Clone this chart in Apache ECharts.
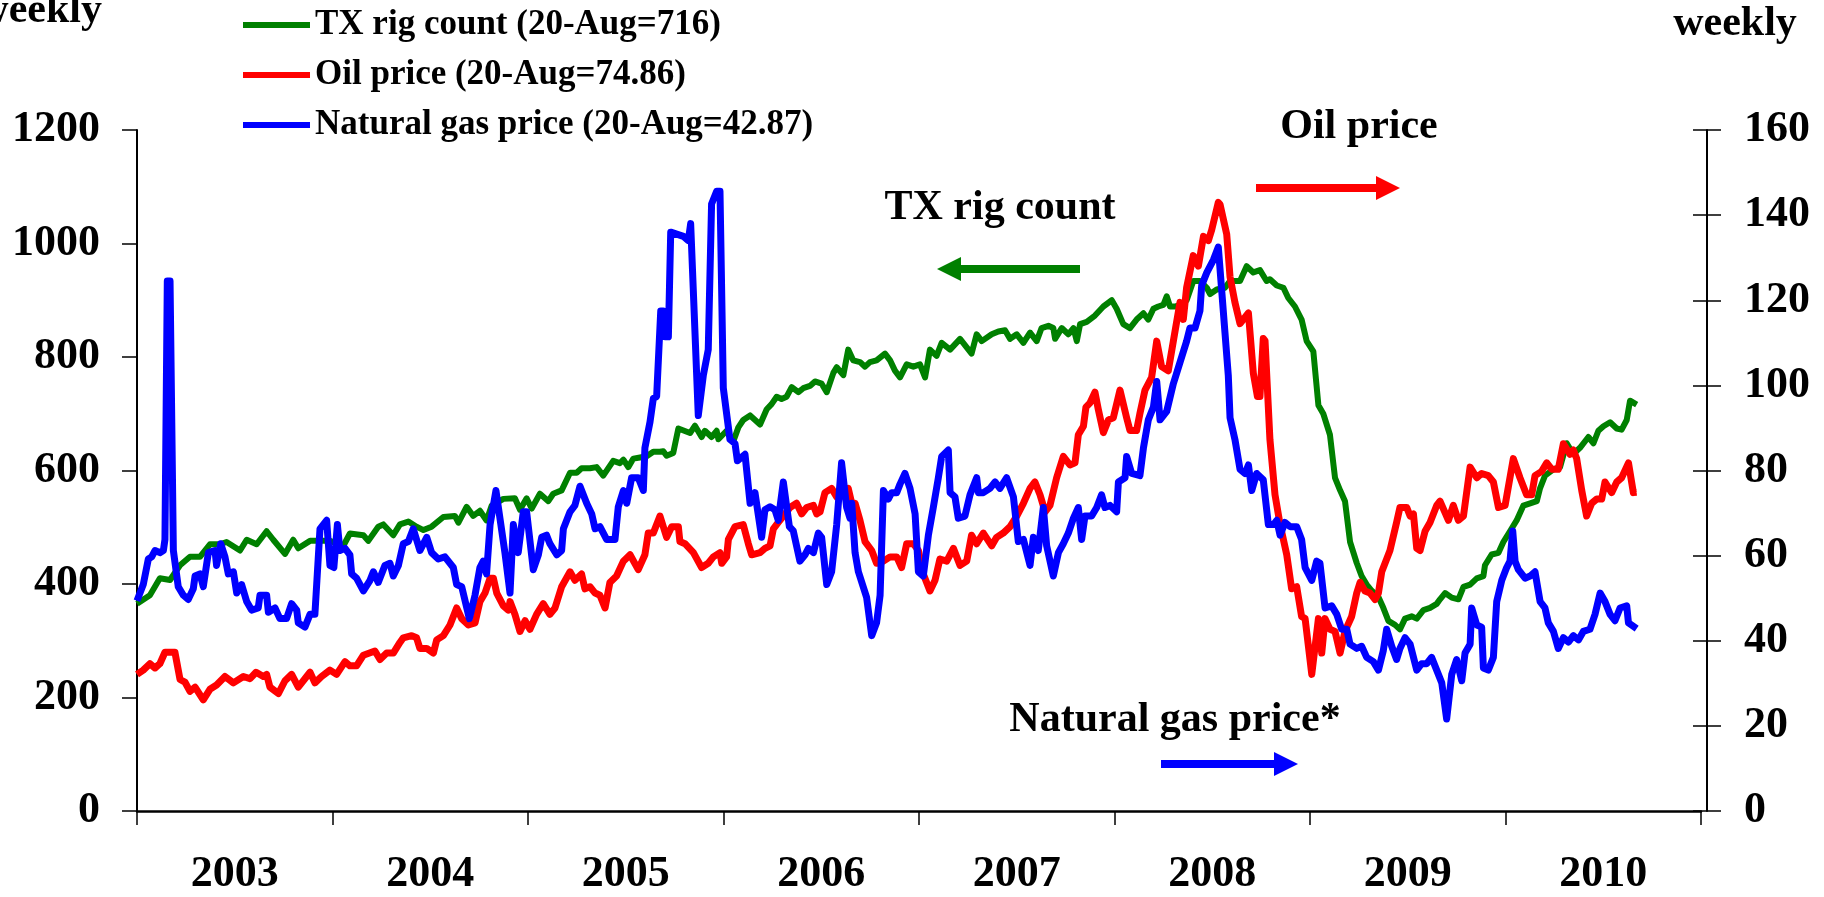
<!DOCTYPE html>
<html>
<head>
<meta charset="utf-8">
<script src="https://cdn.jsdelivr.net/npm/echarts@6/dist/echarts.min.js"></script>
<style>
html,body{margin:0;padding:0;background:#fff;}
#chart{width:1824px;height:897px;}
</style>
</head>
<body>
<div id="chart"></div>
<script>
// ---- tick labels ----
const yearLabels = ['2003','2004','2005','2006','2007','2008','2009','2010'];
const legendNames = ['TX rig count (20-Aug=716)','Oil price (20-Aug=74.86)','Natural gas price (20-Aug=42.87)'];

// ---- data: [decimal year, value] ----
const rigCount = [
[2003.000,365],[2003.066,380],[2003.117,410],[2003.169,407],[2003.220,433],[2003.271,448],[2003.322,448],[2003.373,470],[2003.424,470],[2003.458,474],[2003.527,459],[2003.561,478],[2003.612,470],[2003.663,493],[2003.697,478],[2003.757,453],[2003.799,478],[2003.825,463],[2003.885,476],[2003.987,476],[2004.055,467],[2004.089,489],[2004.158,486],[2004.183,476],[2004.234,501],[2004.260,505],[2004.311,486],[2004.345,505],
[2004.388,510],[2004.430,501],[2004.465,495],[2004.507,501],[2004.567,518],[2004.626,520],[2004.644,508],[2004.686,536],[2004.720,520],[2004.754,529],[2004.788,512],[2004.814,538],[2004.874,550],[2004.933,551],[2004.959,531],[2004.993,551],[2005.019,533],[2005.061,559],[2005.104,546],[2005.129,559],[2005.172,565],[2005.215,596],[2005.249,596],[2005.274,604],[2005.317,604],[2005.351,606],[2005.385,591],[2005.436,617],[2005.470,613],[2005.488,619],[2005.513,606],[2005.539,621],[2005.573,623],[2005.607,625],[2005.641,633],[2005.675,633],
[2005.692,634],[2005.709,626],[2005.743,631],[2005.769,674],[2005.829,666],[2005.854,679],[2005.888,659],[2005.905,670],[2005.939,659],[2005.965,670],[2005.974,655],[2006.016,670],[2006.050,651],[2006.076,676],[2006.101,689],[2006.136,697],[2006.187,681],[2006.221,708],[2006.246,717],[2006.272,730],[2006.297,726],[2006.323,730],[2006.349,747],[2006.383,738],[2006.408,745],[2006.442,749],[2006.468,757],[2006.502,753],[2006.528,738],[2006.562,772],[2006.579,782],[2006.613,768],[2006.638,813],[2006.664,794],[2006.698,791],[2006.724,783],[2006.749,791],[2006.783,794],[2006.826,806],[2006.852,794],[2006.877,776],[2006.903,764],[2006.937,787],[2006.971,783],[2007.005,787],
[2007.031,764],[2007.056,813],[2007.090,802],[2007.116,825],[2007.159,813],[2007.210,832],[2007.269,806],[2007.295,840],[2007.321,828],[2007.372,840],[2007.406,845],[2007.440,847],[2007.466,832],[2007.500,840],[2007.534,825],[2007.568,843],[2007.602,828],[2007.627,851],[2007.662,855],[2007.687,851],[2007.696,832],[2007.730,851],[2007.764,840],[2007.790,851],[2007.807,828],[2007.824,858],[2007.858,862],[2007.900,873],[2007.943,889],[2007.986,900],[2008.011,885],[2008.045,858],[2008.079,851],[2008.113,866],[2008.148,877],[2008.173,866],[2008.199,885],[2008.224,889],[2008.250,892],[2008.267,907],[2008.284,889],[2008.310,889],[2008.335,892],
[2008.369,900],[2008.403,934],[2008.437,934],[2008.472,922],[2008.489,911],[2008.523,919],[2008.565,922],[2008.591,934],[2008.642,934],[2008.676,960],[2008.710,949],[2008.744,953],[2008.778,934],[2008.795,937],[2008.830,926],[2008.864,922],[2008.889,904],[2008.923,889],[2008.957,866],[2008.983,828],[2009.017,810],[2009.043,715],[2009.068,700],[2009.102,663],[2009.128,587],[2009.154,565],[2009.179,546],[2009.205,474],[2009.239,437],[2009.264,414],[2009.290,399],[2009.316,388],[2009.350,377],[2009.375,358],[2009.401,335],[2009.435,328],[2009.460,320],[2009.486,339],[2009.520,343],[2009.546,339],[2009.580,354],[2009.614,358],[2009.648,365],[2009.665,373],
[2009.691,384],[2009.725,376],[2009.759,373],[2009.785,395],[2009.819,399],[2009.853,410],[2009.887,414],[2009.895,433],[2009.929,452],[2009.964,455],[2009.989,474],[2010.023,493],[2010.057,512],[2010.091,538],[2010.126,542],[2010.160,546],[2010.177,569],[2010.202,591],[2010.245,602],[2010.279,606],[2010.313,648],[2010.347,629],[2010.381,640],[2010.424,659],[2010.450,648],[2010.475,670],[2010.501,678],[2010.535,685],[2010.569,674],[2010.594,672],[2010.620,689],[2010.637,723],[2010.671,716]
];

const oilPrice = [
[2003.000,32.1],[2003.032,33.1],[2003.066,34.6],[2003.092,33.6],[2003.117,34.6],[2003.143,37.3],[2003.194,37.3],[2003.220,30.9],[2003.245,30.3],[2003.271,28.1],[2003.297,29.1],[2003.339,26.1],[2003.373,28.6],[2003.407,29.6],[2003.450,31.6],[2003.493,30.1],[2003.544,31.6],[2003.578,31.1],[2003.609,32.6],[2003.646,31.6],[2003.663,32.1],[2003.680,29.1],[2003.723,27.6],[2003.757,30.6],[2003.791,32.1],[2003.825,29.1],[2003.885,32.6],[2003.910,30.1],[2003.944,31.6],[2003.987,33.1],[2004.021,32.1],[2004.064,35.1],[2004.089,34.1],[2004.123,34.1],[2004.158,36.6],[2004.217,37.6],[2004.243,35.6],[2004.277,37.1],[2004.311,37.1],[2004.345,39.6],
[2004.362,40.7],[2004.405,41.2],[2004.430,40.7],[2004.447,38.2],[2004.482,38.2],[2004.516,37.1],[2004.533,40.2],[2004.567,41.2],[2004.601,43.7],[2004.635,47.7],[2004.661,45.2],[2004.695,43.7],[2004.729,44.2],[2004.754,49.2],[2004.780,51.2],[2004.806,54.7],[2004.823,54.7],[2004.840,51.2],[2004.874,48.2],[2004.899,47.2],[2004.908,49.2],[2004.933,46.2],[2004.959,42.2],[2004.985,44.7],[2005.010,42.7],[2005.044,46.2],[2005.078,48.7],[2005.112,46.2],[2005.138,47.7],[2005.172,52.7],[2005.215,56.2],[2005.240,54.2],[2005.274,55.7],[2005.291,52.2],[2005.317,52.7],[2005.343,51.2],[2005.368,50.7],[2005.394,47.7],[2005.419,53.7],[2005.453,55.2],[2005.488,58.7],[2005.522,60.2],[2005.564,56.7],[2005.598,60.2],[2005.615,65.3],[2005.641,65.3],[2005.675,69.3],
[2005.709,64.3],[2005.735,66.8],[2005.769,66.8],[2005.777,63.3],[2005.803,62.8],[2005.846,60.7],[2005.888,57.2],[2005.922,58.2],[2005.948,59.7],[2005.982,60.7],[2005.991,58.2],[2006.016,59.7],[2006.025,63.8],[2006.059,66.8],[2006.101,67.3],[2006.127,62.8],[2006.144,60.2],[2006.187,60.7],[2006.212,61.7],[2006.238,62.3],[2006.255,66.3],[2006.280,67.8],[2006.306,69.3],[2006.340,71.3],[2006.374,72.3],[2006.400,69.8],[2006.425,71.3],[2006.460,71.8],[2006.477,69.8],[2006.494,70.3],[2006.519,74.8],[2006.553,75.8],[2006.579,73.8],[2006.604,75.3],[2006.638,75.8],[2006.656,72.3],[2006.673,72.3],[2006.698,68.3],[2006.724,63.3],[2006.758,61.2],[2006.783,58.2],[2006.818,58.7],[2006.852,59.7],[2006.886,59.7],[2006.911,57.2],[2006.937,62.8],[2006.971,62.8],[2006.997,61.2],
[2007.022,55.7],[2007.056,51.7],[2007.082,54.2],[2007.107,59.2],[2007.142,58.7],[2007.176,61.7],[2007.210,57.7],[2007.244,58.7],[2007.269,64.8],[2007.295,62.8],[2007.329,65.3],[2007.372,62.3],[2007.397,64.3],[2007.431,65.3],[2007.466,66.8],[2007.500,69.3],[2007.534,72.3],[2007.568,75.8],[2007.593,77.3],[2007.619,74.3],[2007.645,70.3],[2007.670,71.8],[2007.704,78.3],[2007.738,83.3],[2007.772,81.3],[2007.798,81.8],[2007.815,88.4],[2007.841,90.4],[2007.854,94.9],[2007.875,95.9],[2007.900,98.4],[2007.917,94.4],[2007.943,88.9],[2007.969,91.9],[2007.994,92.4],[2008.028,98.9],[2008.062,92.4],[2008.079,89.4],[2008.113,89.4],[2008.130,93.4],[2008.156,98.9],[2008.190,101.9],[2008.216,110.4],[2008.241,104.4],[2008.275,103.4],[2008.301,110.4],[2008.335,119.5],
[2008.352,115.5],[2008.369,123.0],[2008.403,130.5],[2008.429,128.0],[2008.455,135.0],[2008.480,134.0],[2008.497,136.5],[2008.531,143.0],[2008.540,142.5],[2008.574,135.5],[2008.591,125.5],[2008.616,119.5],[2008.642,114.5],[2008.685,117.0],[2008.710,102.9],[2008.731,97.4],[2008.744,97.4],[2008.761,111.0],[2008.770,110.5],[2008.795,87.3],[2008.821,74.3],[2008.847,67.3],[2008.881,60.2],[2008.906,52.2],[2008.932,52.7],[2008.957,45.7],[2008.975,45.2],[2009.009,32.1],[2009.043,45.2],[2009.060,37.1],[2009.077,45.2],[2009.102,42.7],[2009.128,42.2],[2009.154,37.1],[2009.179,42.2],[2009.213,45.7],[2009.239,51.2],[2009.256,53.7],[2009.281,51.7],[2009.307,51.2],[2009.333,49.7],[2009.350,51.2],[2009.367,56.2],[2009.409,61.2],[2009.443,67.8],[2009.460,71.3],[2009.495,71.3],[2009.512,69.3],[2009.529,69.8],[2009.546,61.7],[2009.563,61.2],[2009.589,65.8],[2009.614,67.8],[2009.648,71.8],[2009.665,72.8],
[2009.708,68.3],[2009.733,71.8],[2009.759,68.3],[2009.785,69.3],[2009.819,80.8],[2009.853,78.3],[2009.878,79.3],[2009.912,78.8],[2009.938,77.3],[2009.964,71.3],[2009.998,71.8],[2010.040,82.8],[2010.074,78.3],[2010.108,74.3],[2010.134,74.3],[2010.151,78.8],[2010.185,79.8],[2010.211,81.8],[2010.236,80.3],[2010.270,80.3],[2010.296,86.3],[2010.330,83.8],[2010.347,84.8],[2010.364,82.8],[2010.390,75.3],[2010.415,69.3],[2010.441,72.3],[2010.467,73.3],[2010.492,73.3],[2010.509,77.3],[2010.543,74.8],[2010.569,77.3],[2010.594,78.3],[2010.629,81.8],[2010.654,74.8],[2010.671,74.86]
];

const gasPrice = [
[2003.000,49.4],[2003.032,53.2],[2003.058,59.2],[2003.075,59.7],[2003.092,61.2],[2003.117,60.7],[2003.135,61.2],[2003.143,63.8],[2003.155,124.5],[2003.169,124.5],[2003.186,61.2],[2003.211,52.7],[2003.237,50.7],[2003.262,49.7],[2003.288,52.2],[2003.297,55.2],[2003.322,55.7],[2003.339,52.7],[2003.365,60.7],[2003.399,61.2],[2003.407,57.7],[2003.428,62.8],[2003.450,59.7],[2003.467,55.7],[2003.493,56.2],[2003.510,51.2],[2003.535,53.2],[2003.561,49.2],[2003.586,47.2],[2003.620,47.7],[2003.629,50.7],[2003.663,50.7],[2003.672,46.7],[2003.706,47.7],[2003.731,45.2],[2003.765,45.2],[2003.791,48.7],[2003.817,47.2],[2003.825,44.2],[2003.859,43.2],[2003.885,46.2],[2003.910,46.2],[2003.936,66.3],[2003.970,68.3],[2003.987,57.7],[2004.007,57.2],[2004.025,67.3],[2004.038,61.2],[2004.064,61.7],[2004.089,60.2],[2004.098,55.7],[2004.123,54.7],[2004.158,51.7],[2004.192,54.2],[2004.209,56.2],[2004.234,53.7],[2004.268,57.7],[2004.294,58.2],[2004.311,55.2],[2004.337,57.7],
[2004.362,62.8],[2004.388,63.3],[2004.413,66.3],[2004.447,61.2],[2004.482,64.3],[2004.507,60.7],[2004.541,59.2],[2004.575,59.7],[2004.618,57.2],[2004.635,53.2],[2004.661,52.7],[2004.700,45.2],[2004.729,50.7],[2004.754,57.2],[2004.771,58.7],[2004.788,55.7],[2004.806,67.3],[2004.836,75.3],[2004.882,60.7],[2004.908,51.2],[2004.925,67.3],[2004.950,60.7],[2004.976,70.3],[2004.993,70.3],[2005.027,56.7],[2005.053,60.2],[2005.070,64.3],[2005.095,64.8],[2005.112,62.8],[2005.147,60.2],[2005.172,61.2],[2005.181,66.3],[2005.215,70.3],[2005.240,71.8],[2005.266,76.3],[2005.300,72.3],[2005.326,69.8],[2005.343,66.3],[2005.368,66.8],[2005.402,63.8],[2005.445,63.8],[2005.462,71.5],[2005.488,75.3],[2005.505,72.3],[2005.530,78.3],[2005.564,78.3],[2005.590,75.3],[2005.598,85.3],[2005.624,91.4],[2005.641,96.9],[2005.658,97.4],
[2005.679,117.5],[2005.692,117.5],[2005.701,111.4],[2005.718,111.4],[2005.730,136.0],[2005.795,135.0],[2005.820,134.0],[2005.832,138.0],[2005.842,138.0],[2005.871,92.9],[2005.897,102.4],[2005.922,108.4],[2005.939,142.6],[2005.965,145.6],[2005.982,145.6],[2005.999,99.4],[2006.033,87.3],[2006.059,86.3],[2006.071,82.3],[2006.110,83.8],[2006.136,72.3],[2006.161,74.8],[2006.195,64.3],[2006.212,70.8],[2006.238,71.5],[2006.263,70.8],[2006.280,68.3],[2006.306,77.3],[2006.337,66.8],[2006.357,65.8],[2006.391,58.7],[2006.417,60.2],[2006.434,61.7],[2006.460,60.7],[2006.485,65.3],[2006.502,64.3],[2006.528,53.2],[2006.553,56.2],[2006.579,67.3],[2006.604,81.8],[2006.630,71.3],[2006.647,68.8],[2006.656,72.3],[2006.673,60.7],[2006.690,56.2],[2006.732,50.2],[2006.758,41.2],[2006.783,44.2],[2006.801,50.7],[2006.818,75.3],[2006.843,73.3],[2006.860,74.8],[2006.886,74.8],[2006.903,76.8],[2006.928,79.3],[2006.954,75.8],[2006.980,69.8],[2006.997,56.2],
[2007.022,55.2],[2007.048,64.8],[2007.073,71.3],[2007.099,78.3],[2007.116,83.3],[2007.150,84.8],[2007.159,74.8],[2007.184,73.8],[2007.201,68.8],[2007.235,69.3],[2007.261,74.3],[2007.295,78.3],[2007.304,74.8],[2007.329,74.8],[2007.363,75.8],[2007.389,77.3],[2007.414,75.8],[2007.448,78.3],[2007.483,73.8],[2007.508,63.3],[2007.534,63.8],[2007.568,57.7],[2007.585,64.3],[2007.610,61.2],[2007.636,71.3],[2007.653,62.3],[2007.687,55.2],[2007.713,60.7],[2007.738,62.8],[2007.764,65.3],[2007.790,68.8],[2007.815,71.3],[2007.832,63.8],[2007.849,69.3],[2007.883,69.3],[2007.909,71.3],[2007.934,74.3],[2007.951,71.3],[2007.977,71.8],[2008.011,70.3],[2008.020,77.3],[2008.054,78.3],[2008.062,83.3],[2008.088,79.3],[2008.130,78.8],[2008.148,85.3],[2008.173,91.9],[2008.199,94.9],[2008.216,100.9],[2008.233,91.9],[2008.267,93.9],[2008.301,100.4],[2008.335,105.4],
[2008.369,110.4],[2008.386,113.5],[2008.412,113.5],[2008.437,117.5],[2008.446,123.5],[2008.472,126.5],[2008.506,129.5],[2008.531,132.5],[2008.548,122.5],[2008.565,112.4],[2008.582,102.4],[2008.591,92.4],[2008.616,87.3],[2008.642,80.3],[2008.668,79.3],[2008.685,81.3],[2008.702,75.3],[2008.727,79.3],[2008.761,77.8],[2008.787,67.3],[2008.813,67.3],[2008.830,68.3],[2008.847,64.8],[2008.872,67.8],[2008.898,66.8],[2008.932,66.8],[2008.957,63.8],[2008.975,57.2],[2009.009,54.2],[2009.034,58.7],[2009.051,58.2],[2009.077,47.7],[2009.111,48.2],[2009.137,46.2],[2009.162,42.7],[2009.188,42.7],[2009.205,39.2],[2009.239,38.2],[2009.264,38.7],[2009.290,36.1],[2009.324,35.1],[2009.350,33.1],[2009.375,37.7],[2009.392,42.7],[2009.418,38.7],[2009.443,35.6],[2009.460,38.2],[2009.486,40.7],[2009.512,39.2],[2009.546,33.1],[2009.571,34.6],[2009.597,34.6],[2009.622,36.1],[2009.648,33.1],
[2009.674,30.1],[2009.699,21.6],[2009.725,32.1],[2009.750,35.6],[2009.776,30.6],[2009.793,37.1],[2009.819,39.2],[2009.827,47.7],[2009.853,43.7],[2009.878,43.2],[2009.887,33.6],[2009.912,33.1],[2009.938,36.1],[2009.955,49.2],[2009.981,54.2],[2010.006,57.2],[2010.023,58.7],[2010.037,65.8],[2010.049,58.7],[2010.066,56.7],[2010.100,54.7],[2010.126,55.2],[2010.151,56.2],[2010.177,49.2],[2010.202,47.7],[2010.219,44.2],[2010.245,42.2],[2010.270,38.2],[2010.296,40.7],[2010.322,39.7],[2010.347,41.2],[2010.373,40.2],[2010.398,42.2],[2010.432,42.7],[2010.458,46.2],[2010.484,51.2],[2010.509,49.2],[2010.535,46.2],[2010.560,44.7],[2010.586,47.7],[2010.620,48.2],[2010.629,44.2],[2010.671,42.87]
];

const FONT = '"Liberation Serif", "Times New Roman", serif';
const GREEN = '#008000', RED = '#ff0000', BLUE = '#0000ff';

const chart = echarts.init(document.getElementById('chart'), null, {renderer: 'canvas'});

const tickLabel = {fontFamily: FONT, fontWeight: 'bold', fontSize: 44, color: '#000'};
const plainNum = function (v) { return String(v); };

const option = {
  animation: false,
  backgroundColor: '#fff',
  grid: {left: 137, right: 123, top: 130, bottom: 86, containLabel: false, outerBoundsMode: 'none'},
  legend: {
    orient: 'vertical', left: 238, top: 2,
    itemWidth: 67, itemHeight: 6, itemGap: 14, icon: 'rect',
    selectedMode: false,
    textStyle: {fontFamily: FONT, fontWeight: 'bold', fontSize: 35, color: '#000', lineHeight: 36},
    data: legendNames
  },
  xAxis: [
    {type: 'value', min: 2003, max: 2011, show: false},
    {type: 'category', data: yearLabels, position: 'bottom', boundaryGap: true,
     axisLine: {show: true, lineStyle: {color: '#000', width: 2.5}},
     axisTick: {show: true, length: 14, interval: 0, alignWithLabel: false, lineStyle: {color: '#000', width: 1.5}},
     axisLabel: Object.assign({interval: 0, margin: 42}, tickLabel),
     splitLine: {show: false}}
  ],
  yAxis: [
    {type: 'value', min: 0, max: 1200, interval: 200, position: 'left',
     axisLine: {show: true, lineStyle: {color: '#000', width: 2}},
     axisTick: {show: true, length: 15, lineStyle: {color: '#000', width: 1.5}},
     axisLabel: Object.assign({margin: 37, formatter: plainNum}, tickLabel),
     splitLine: {show: false}},
    {type: 'value', min: 0, max: 160, interval: 20, position: 'right', offset: 6,
     axisLine: {show: true, lineStyle: {color: '#000', width: 2}},
     axisTick: {show: true, length: 14, lineStyle: {color: '#000', width: 1.5}},
     axisLabel: Object.assign({margin: 37, formatter: plainNum}, tickLabel),
     splitLine: {show: false}},
    {type: 'value', min: 0, max: 160, interval: 20, position: 'right', offset: 6,
     axisLine: {show: false},
     axisTick: {show: true, inside: true, length: 14, lineStyle: {color: '#000', width: 1.5}},
     axisLabel: {show: false},
     splitLine: {show: false}}
  ],
  series: [
    {name: legendNames[0], type: 'line', xAxisIndex: 0, yAxisIndex: 0, data: rigCount,
     showSymbol: false, symbol: 'none', color: GREEN,
     lineStyle: {color: GREEN, width: 6, join: 'round'}, z: 2},
    {name: legendNames[1], type: 'line', xAxisIndex: 0, yAxisIndex: 1, data: oilPrice,
     showSymbol: false, symbol: 'none', color: RED,
     lineStyle: {color: RED, width: 7, join: 'round'}, z: 3},
    {name: legendNames[2], type: 'line', xAxisIndex: 0, yAxisIndex: 1, data: gasPrice,
     showSymbol: false, symbol: 'none', color: BLUE,
     lineStyle: {color: BLUE, width: 7, join: 'round'}, z: 4}
  ],
  graphic: [
    {type: 'text', x: 102, y: 11, style: {text: 'weekly', font: 'bold 42px ' + FONT, fill: '#000', align: 'right', verticalAlign: 'middle'}},
    {type: 'text', x: 1735, y: 24, style: {text: 'weekly', font: 'bold 42px ' + FONT, fill: '#000', align: 'center', verticalAlign: 'middle'}},
    {type: 'text', x: 1000, y: 208, style: {text: 'TX rig count', font: 'bold 42px ' + FONT, fill: '#000', align: 'center', verticalAlign: 'middle'}},
    {type: 'text', x: 1359, y: 127, style: {text: 'Oil price', font: 'bold 42px ' + FONT, fill: '#000', align: 'center', verticalAlign: 'middle'}},
    {type: 'text', x: 1175, y: 720, style: {text: 'Natural gas price*', font: 'bold 42px ' + FONT, fill: '#000', align: 'center', verticalAlign: 'middle'}},
    // green arrow (left)
    {type: 'rect', shape: {x: 958, y: 265, width: 122, height: 8}, style: {fill: GREEN}},
    {type: 'polygon', shape: {points: [[937, 269], [961, 257], [961, 281]]}, style: {fill: GREEN}},
    // red arrow (right)
    {type: 'rect', shape: {x: 1256, y: 184, width: 122, height: 8}, style: {fill: RED}},
    {type: 'polygon', shape: {points: [[1400, 188], [1376, 176], [1376, 200]]}, style: {fill: RED}},
    // blue arrow (right)
    {type: 'rect', shape: {x: 1161, y: 760, width: 115, height: 8}, style: {fill: BLUE}},
    {type: 'polygon', shape: {points: [[1298, 764], [1274, 752], [1274, 776]]}, style: {fill: BLUE}}
  ]
};
chart.setOption(option);
</script>
</body>
</html>
